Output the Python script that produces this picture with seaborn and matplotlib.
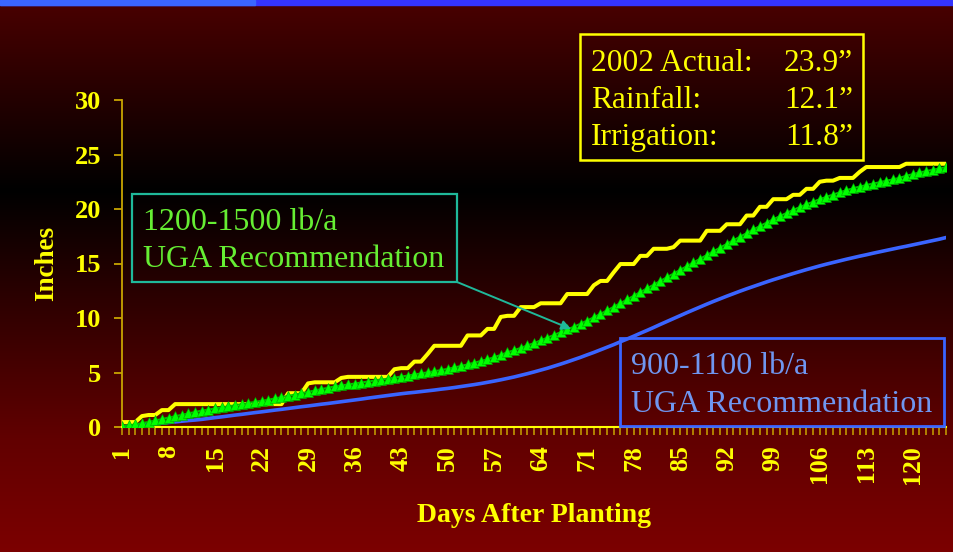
import numpy as np
import pandas as pd
import matplotlib
matplotlib.use("Agg")
import matplotlib.pyplot as plt
from matplotlib.patches import Rectangle
import seaborn as sns

# ---------------- data ----------------
days = list(range(1, 126))
tick_days = list(range(1, 121, 7))
y_ticks = [0, 5, 10, 15, 20, 25, 30]

actual_2002 = [
    0.45, 0.45, 0.45, 1.0, 1.1, 1.1, 1.55, 1.55,                      # d1-8
    2.1, 2.1, 2.1, 2.1, 2.1, 2.1, 2.1, 2.1, 2.1, 2.1, 2.1, 2.1,       # d9-20
    2.1, 2.1, 2.1, 2.1, 2.1,                                          # d21-25
    3.1, 3.1, 3.1, 4.0, 4.1, 4.1, 4.1, 4.1,                           # d26-33
    4.5, 4.6, 4.6, 4.6, 4.6, 4.6, 4.6, 4.6,                           # d34-41
    5.3, 5.4, 5.4, 6.0, 6.0, 6.7,                                     # d42-47
    7.45, 7.45, 7.45, 7.45, 7.45, 8.4, 8.4, 8.4, 9.0, 9.0,            # d48-57
    10.1, 10.2, 10.2, 11.0, 11.0, 11.0, 11.35, 11.35, 11.35, 11.35,   # d58-67
    12.2, 12.2, 12.2, 12.2, 13.0, 13.4, 13.4, 14.2,                   # d68-75
    14.95, 14.95, 14.95, 15.7, 15.7, 16.35, 16.35, 16.35, 16.5,       # d76-84
    17.1, 17.1, 17.1, 17.1, 18.0, 18.0, 18.0, 18.6, 18.6, 18.6,       # d85-94
    19.4, 19.4, 20.2, 20.2, 20.9, 20.9, 20.9, 21.3, 21.3,             # d95-103
    21.85, 21.85, 22.5, 22.6, 22.6, 22.85, 22.85, 22.85, 23.4,        # d104-112
    23.85, 23.85, 23.85, 23.85, 23.85, 23.85,                         # d113-118
    24.15, 24.15, 24.15, 24.15, 24.15, 24.15, 24.15,                  # d119-125
]

rec_1200_1500 = [
    0.10, 0.15, 0.25, 0.35, 0.47, 0.60, 0.73, 0.86, 0.99, 1.12,
    1.25, 1.38, 1.50, 1.60, 1.70, 1.80, 1.90, 2.00, 2.10, 2.20,
    2.30, 2.40, 2.50, 2.62, 2.74, 2.86, 2.98, 3.10, 3.22, 3.35,
    3.48, 3.60, 3.72, 3.81, 3.90, 3.99, 4.08, 4.17, 4.26, 4.35,
    4.44, 4.53, 4.62, 4.72, 4.82, 4.92, 5.02, 5.12, 5.22, 5.34,
    5.46, 5.60, 5.74, 5.90, 6.06, 6.22, 6.40, 6.62, 6.85, 7.05,
    7.26, 7.48, 7.70, 7.95, 8.20, 8.45, 8.70, 8.95, 9.20, 9.48,
    9.77, 10.07, 10.38, 10.70, 11.03, 11.36, 11.70, 12.04, 12.38, 12.72,
    13.06, 13.40, 13.74, 14.08, 14.42, 14.76, 15.10, 15.44, 15.78, 16.12,
    16.46, 16.80, 17.13, 17.46, 17.79, 18.12, 18.44, 18.75, 19.05, 19.35,
    19.64, 19.92, 20.18, 20.43, 20.67, 20.90, 21.12, 21.33, 21.53, 21.72,
    21.90, 22.06, 22.20, 22.33, 22.46, 22.59, 22.72, 22.86, 23.05, 23.20,
    23.35, 23.48, 23.60, 23.72, 23.85,
]

rec_900_1100 = [
    0.00, 0.06, 0.12, 0.18, 0.24, 0.30, 0.35, 0.41, 0.47, 0.53,       # d1-10
    0.59, 0.64, 0.70, 0.78, 0.86, 0.93, 1.01, 1.09, 1.16, 1.24,       # d11-20
    1.32, 1.39, 1.47, 1.55, 1.62, 1.70, 1.78, 1.86, 1.93, 2.01,       # d21-30
    2.09, 2.16, 2.24, 2.32, 2.40, 2.48, 2.56, 2.65, 2.73, 2.81,       # d31-40
    2.89, 2.97, 3.05, 3.12, 3.18, 3.25, 3.32, 3.39, 3.47, 3.54,       # d41-50
    3.62, 3.71, 3.80, 3.89, 3.99, 4.10, 4.21, 4.33, 4.46, 4.59,       # d51-60
    4.74, 4.89, 5.05, 5.22, 5.39, 5.58, 5.77, 5.97, 6.18, 6.39,       # d61-70
    6.62, 6.84, 7.08, 7.32, 7.56, 7.82, 8.07, 8.33, 8.60, 8.86,       # d71-80
    9.13, 9.41, 9.68, 9.95, 10.22, 10.49, 10.75, 11.01, 11.27, 11.52, # d81-90
    11.76, 12.00, 12.23, 12.46, 12.68, 12.89, 13.10, 13.31, 13.51, 13.70,  # d91-100
    13.89, 14.08, 14.26, 14.44, 14.61, 14.78, 14.94, 15.09, 15.24, 15.39,  # d101-110
    15.53, 15.67, 15.80, 15.94, 16.07, 16.20, 16.33, 16.46, 16.58, 16.71,  # d111-120
    16.84, 16.97, 17.10, 17.23, 17.38,                                      # d121-125
]

actual_labels = ["2002 Actual:", "Rainfall:", "Irrigation:"]
actual_values = ["23.9\u201d", "12.1\u201d", "11.8\u201d"]
green_box_lines = ["1200-1500 lb/a", "UGA Recommendation"]
blue_box_lines = ["900-1100 lb/a", "UGA Recommendation"]
x_title = "Days After Planting"
y_title = "Inches"

df = pd.DataFrame({"day": days, "actual": actual_2002,
                   "high": rec_1200_1500, "low": rec_900_1100})

# ---------------- figure ----------------
W, H = 954, 552
SERIF = "Liberation Serif"
YEL = "#ffff00"
GOLD = "#c8a400"

fig = plt.figure(figsize=(W / 100, H / 100), dpi=100)

def fx(x):
    return x / W

def fy(y):
    return 1 - y / H

# background gradient
bg = fig.add_axes([0, 0, 1, 1], zorder=0)
rows = np.arange(H)
red = np.interp(rows, [0, 5, 190, 300, 440, 552], [74, 72, 0, 45, 98, 124]) / 255.0
img = np.zeros((H, 2, 3))
img[:, :, 0] = red[:, None]
bg.imshow(img, aspect="auto", extent=[0, 1, 0, 1], origin="upper")
bg.set_axis_off()

# top stripe
fig.add_artist(Rectangle((0, fy(5)), 1, 5 / H, transform=fig.transFigure,
                         color="#3434ff", zorder=1))
fig.add_artist(Rectangle((0, fy(5)), fx(255), 5 / H, transform=fig.transFigure,
                         color="#3a66ff", zorder=1))

ax = fig.add_axes([fx(122), fy(427), fx(946) - fx(122), (427 - 100) / H], zorder=2)
ax.set_facecolor("none")

sns.lineplot(data=df, x="day", y="low", ax=ax, color="#3a64ff", lw=2.6, zorder=3)
sns.lineplot(data=df, x="day", y="actual", ax=ax, color=YEL, lw=2.9, zorder=4)
sns.lineplot(data=df, x="day", y="high", ax=ax, color="#00cc00", lw=1.4,
             marker="^", markersize=6.5, markerfacecolor="#00ff00",
             markeredgecolor="#00a000", markeredgewidth=0.4, zorder=5)

ax.set_xlim(1, 125)
ax.set_ylim(0, 30)
ax.set_yticks(y_ticks)
ax.set_xticks(tick_days)
ax.set_xticks(days, minor=True)
ax.set_xticklabels([str(d) for d in tick_days], rotation=90)
ax.set_xlabel("")
ax.set_ylabel("")

for lab in ax.get_xticklabels():
    lab.set_fontfamily(SERIF)
    lab.set_fontweight("bold")
    lab.set_fontsize(18.5)
    lab.set_color(YEL)
for lab in ax.get_yticklabels():
    lab.set_fontfamily(SERIF)
    lab.set_fontweight("bold")
    lab.set_fontsize(19)
    lab.set_color(YEL)

ax.tick_params(axis="y", length=5.8, width=1.3, color=GOLD, pad=9)
ax.tick_params(axis="x", which="both", length=5.8, width=1.1, color=GOLD, pad=7)
for s in ["top", "right"]:
    ax.spines[s].set_visible(False)
ax.spines["left"].set_color(GOLD)
ax.spines["left"].set_linewidth(1.3)
ax.spines["bottom"].set_color(YEL)
ax.spines["bottom"].set_linewidth(1.5)
ax.grid(False)

# axis titles
fig.text(fx(47), fy(263), y_title, rotation=90, ha="center", va="center",
         fontsize=19.5, fontweight="bold", family=SERIF, color=YEL)
fig.text(fx(534), fy(516), x_title, ha="center", va="center",
         fontsize=20, fontweight="bold", family=SERIF, color=YEL)

# yellow summary box
fig.add_artist(Rectangle((fx(580), fy(160)), fx(863) - fx(580), (160 - 34) / H,
                         transform=fig.transFigure, fill=False, edgecolor=YEL,
                         lw=1.8, zorder=6))
for lab, val, base in zip(actual_labels, actual_values, [70.7, 108.3, 145.0]):
    fig.text(fx(591), fy(base), lab, ha="left", va="baseline", fontsize=22.6,
             family=SERIF, color=YEL, zorder=7)
    fig.text(fx(853), fy(base), val, ha="right", va="baseline", fontsize=22.6,
             family=SERIF, color=YEL, zorder=7)

# green recommendation box + arrow
TEAL = "#1fb89a"
fig.add_artist(Rectangle((fx(132), fy(282)), fx(457) - fx(132), (282 - 194) / H,
                         transform=fig.transFigure, fill=False, edgecolor=TEAL,
                         lw=1.6, zorder=6))
for line, base in zip(green_box_lines, [230.0, 267.0]):
    fig.text(fx(143), fy(base), line, ha="left", va="baseline", fontsize=23,
             family=SERIF, color="#66ee33", zorder=7)
ax.annotate("", xy=(fx(571), fy(329)), xytext=(fx(457), fy(282)),
            xycoords="figure fraction", textcoords="figure fraction",
            arrowprops=dict(arrowstyle="-|>", color=TEAL, lw=1.4,
                            mutation_scale=14, shrinkA=0, shrinkB=0),
            zorder=7)

# blue recommendation box
fig.add_artist(Rectangle((fx(620), fy(426)), fx(944) - fx(620), (426 - 338) / H,
                         transform=fig.transFigure, fill=False, edgecolor="#3a64ff",
                         lw=2.0, zorder=6))
for line, base in zip(blue_box_lines, [374.0, 411.5]):
    fig.text(fx(631), fy(base), line, ha="left", va="baseline", fontsize=23,
             family=SERIF, color="#6f96f0", zorder=7)

fig.savefig("out.png", dpi=100, facecolor="#300000")
